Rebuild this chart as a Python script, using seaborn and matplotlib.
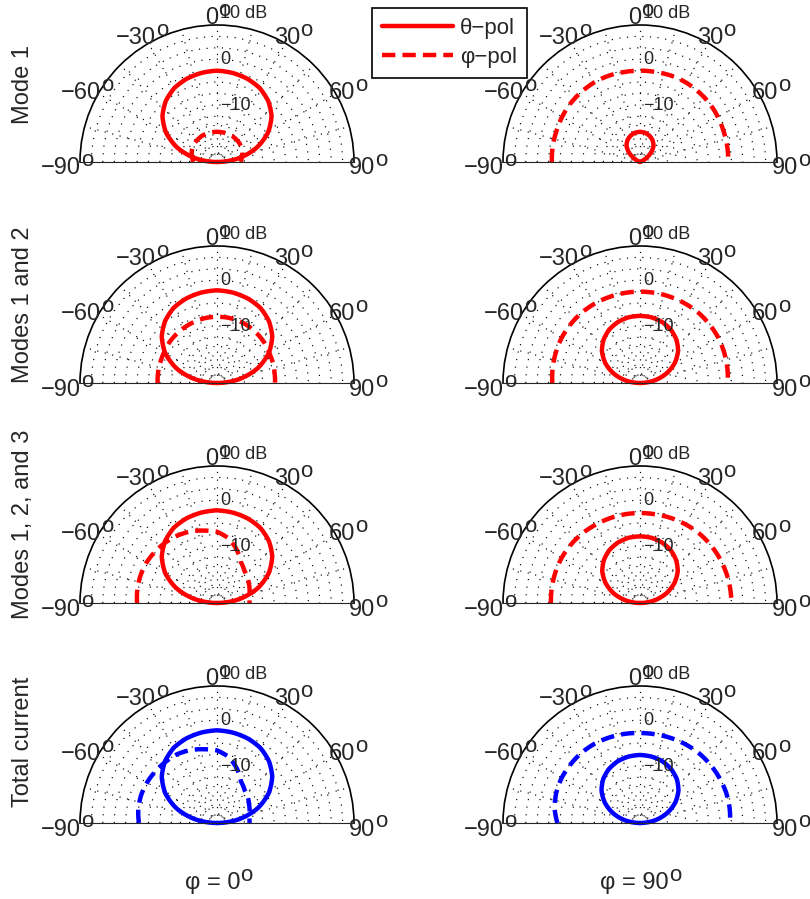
import numpy as np
import matplotlib
matplotlib.use("Agg")
import matplotlib.pyplot as plt
from matplotlib.lines import Line2D
import seaborn as sns

# ---------------------------------------------------------------------------
# Far-field patterns (dB) sampled every 10 degrees from -90 to 90
# ---------------------------------------------------------------------------
ANGLES = [-90, -80, -70, -60, -50, -40, -30, -20, -10, 0,
          10, 20, 30, 40, 50, 60, 70, 80, 90]

# Mode 1
M1_PHI0_THETA = [-20.0, -15.1, -10.7, -7.1, -4.4, -2.55, -1.3, -0.6, -0.2, 0.0,
                 -0.2, -0.6, -1.3, -2.55, -4.4, -7.1, -10.7, -15.1, -20.0]
M1_PHI0_PHI = [-14.8, -14.5, -14.1, -13.8, -13.6, -13.5, -13.4, -13.4, -13.4, -13.4,
               -13.4, -13.4, -13.4, -13.5, -13.6, -13.8, -14.1, -14.5, -14.8]
M1_PHI90_THETA = [-20.0, -20.0, -20.0, -18.8, -16.9, -15.4, -14.5, -13.9, -13.5, -13.4,
                  -13.5, -13.9, -14.5, -15.4, -16.9, -18.8, -20.0, -20.0, -20.0]
M1_PHI90_PHI = [-0.7, -0.6, -0.5, -0.3, -0.1, 0.0, 0.1, 0.1, 0.0, 0.0,
                0.0, 0.1, 0.1, 0.0, -0.1, -0.3, -0.5, -0.6, -0.7]

# Modes 1 and 2
M12_PHI0_THETA = [-20.0, -15.0, -10.5, -6.9, -4.2, -2.3, -1.0, -0.3, 0.1, 0.3,
                  0.1, -0.3, -1.0, -2.3, -4.2, -6.9, -10.5, -15.0, -20.0]
M12_PHI0_PHI = [-7.0, -6.9, -6.8, -6.6, -6.3, -6.1, -5.9, -5.7, -5.55, -5.5,
                -5.5, -5.6, -5.8, -6.1, -6.4, -6.8, -7.0, -7.2, -7.3]
M12_PHI90_THETA = [-20.0, -16.8, -13.8, -11.2, -9.1, -7.6, -6.5, -5.8, -5.4, -5.3,
                   -5.4, -5.8, -6.5, -7.6, -9.1, -11.2, -13.8, -16.8, -20.0]
M12_PHI90_PHI = [-0.8, -0.6, -0.4, -0.2, -0.1, 0.0, 0.0, 0.0, 0.0, 0.0,
                 0.0, 0.0, 0.0, 0.0, -0.1, -0.2, -0.4, -0.6, -0.8]

# Modes 1, 2, and 3
M123_PHI0_THETA = [-20.0, -15.0, -10.5, -6.9, -4.2, -2.3, -1.0, -0.3, 0.1, 0.3,
                   0.1, -0.3, -1.0, -2.3, -4.2, -6.9, -10.5, -15.0, -20.0]
M123_PHI0_PHI = [-2.5, -2.3, -2.2, -2.2, -2.4, -2.6, -2.9, -3.3, -3.9, -4.4,
                 -5.6, -7.5, -9.6, -10.7, -11.3, -11.9, -12.4, -12.8, -12.9]
M123_PHI90_THETA = [-20.0, -16.9, -13.9, -11.3, -9.2, -7.7, -6.6, -5.9, -5.5, -5.4,
                    -5.5, -5.9, -6.6, -7.7, -9.2, -11.3, -13.9, -16.9, -20.0]
M123_PHI90_PHI = [-0.5, -0.4, -0.3, -0.2, -0.2, -0.2, -0.3, -0.3, -0.3, -0.3,
                  -0.3, -0.2, -0.1, 0.0, 0.0, 0.0, 0.0, 0.0, 0.0]

# Total current
TOT_PHI0_THETA = [-20.0, -15.0, -10.5, -6.9, -4.2, -2.3, -1.0, -0.3, 0.1, 0.3,
                  0.1, -0.3, -1.0, -2.3, -4.2, -6.9, -10.5, -15.0, -20.0]
TOT_PHI0_PHI = [-2.9, -2.5, -2.3, -2.3, -2.4, -2.5, -2.6, -3.0, -3.6, -4.1,
                -5.3, -7.3, -9.5, -10.6, -11.2, -11.9, -12.4, -12.8, -12.9]
TOT_PHI90_THETA = [-20.0, -16.7, -13.7, -11.1, -9.0, -7.45, -6.36, -5.63, -5.24, -5.1,
                   -5.24, -5.63, -6.36, -7.45, -9.0, -11.1, -13.7, -16.7, -20.0]
TOT_PHI90_PHI = [-1.9, -1.0, -0.5, -0.2, -0.1, 0.0, 0.0, -0.1, -0.2, -0.3,
                 -0.3, -0.2, -0.1, 0.0, 0.0, 0.0, 0.0, -0.1, -0.3]

ROW_LABELS = ["Mode 1", "Modes 1 and 2", "Modes 1, 2, and 3", "Total current"]
COL_LABELS = ["\u03c6 = 0", "\u03c6 = 90"]
LEGEND_LABELS = ["\u03b8\u2212pol", "\u03c6\u2212pol"]
ROW_COLORS = ["#ff0000", "#ff0000", "#ff0000", "#0000ff"]

PANELS = [
    [(M1_PHI0_THETA, M1_PHI0_PHI), (M1_PHI90_THETA, M1_PHI90_PHI)],
    [(M12_PHI0_THETA, M12_PHI0_PHI), (M12_PHI90_THETA, M12_PHI90_PHI)],
    [(M123_PHI0_THETA, M123_PHI0_PHI), (M123_PHI90_THETA, M123_PHI90_PHI)],
    [(TOT_PHI0_THETA, TOT_PHI0_PHI), (TOT_PHI90_THETA, TOT_PHI90_PHI)],
]

# polar dB scale
R_MIN, R_MAX = -20, 10
RING_LEVELS = [-18, -16, -14, -12, -10, -7.5, -5, -2.5, 0, 2.5, 5, 7.5]
R_LABELS = [(-10, "\u221210"), (0, "0"), (10, "10 dB")]
SPOKES = list(range(-90, 91, 15))
ANGLE_TICKS = [-90, -60, -30, 0, 30, 60, 90]

# ---------------------------------------------------------------------------
sns.set_style("white")
plt.rcParams["font.family"] = ["Liberation Sans", "DejaVu Sans"]

W, H = 810, 899
fig = plt.figure(figsize=(W / 100, H / 100), dpi=100)

RADIUS = 137
LEFTS = [80, 503]
BASES = [162, 383, 603, 823]

LW = 3.2
DASH = (0, (3.0, 1.6))
DOT = (0, (1, 5.5))
FS = 17


def degree_text(ax, text, xy, xycoords, dy):
    """Number with a raised 'o' degree mark, centred as one string."""
    body = ax.annotate(text, xy=xy, xycoords=xycoords, xytext=(-4.0, dy),
                       textcoords="offset points", ha="center", va="baseline",
                       fontsize=FS, annotation_clip=False)
    ax.annotate("o", xy=(1, 0), xycoords=body, xytext=(0.0, 9.4),
                textcoords="offset points", ha="left", va="baseline",
                fontsize=FS - 1, annotation_clip=False)


for ri, row in enumerate(PANELS):
    for ci, (theta_pol, phi_pol) in enumerate(row):
        yc = BASES[ri] - RADIUS / 2
        rect = [LEFTS[ci] / W, (H - (yc + RADIUS)) / H,
                2 * RADIUS / W, 2 * RADIUS / H]
        ax = fig.add_axes(rect, projection="polar")
        ax.set_theta_zero_location("N")
        ax.set_theta_direction(-1)
        ax.set_thetamin(-90)
        ax.set_thetamax(90)
        ax.set_ylim(R_MIN, R_MAX)
        ax.set_facecolor("none")

        ax.set_xticks(np.deg2rad(SPOKES))
        ax.set_yticks(RING_LEVELS)
        ax.set_xticklabels([])
        ax.set_yticklabels([])
        ax.tick_params(length=0)
        ax.grid(True, color="black", linewidth=0.85, linestyle=DOT)
        rgrid = ax.yaxis.get_gridlines()
        rgrid[0].set_linestyle("-")
        rgrid[0].set_linewidth(0.7)
        rgrid[1].set_linestyle((0, (1, 2)))
        for s in ("start", "end", "inner"):
            ax.spines[s].set_visible(False)
        ax.spines["polar"].set_color("black")
        ax.spines["polar"].set_linewidth(1.2)

        color = ROW_COLORS[ri]
        th = np.deg2rad(ANGLES)
        sns.lineplot(x=th, y=theta_pol, ax=ax, color=color, linewidth=LW,
                     sort=False, estimator=None, legend=False, clip_on=False)
        sns.lineplot(x=th, y=phi_pol, ax=ax, color=color, linewidth=LW,
                     linestyle=DASH, sort=False, estimator=None, legend=False,
                     clip_on=False)
        # follow the polar scale between samples (arcs, not chords)
        for ln in ax.lines:
            ln.get_path()._interpolation_steps = 40
        ax.set_xlabel("")
        ax.set_ylabel("")

        # radial labels
        for val, lab in R_LABELS:
            ax.annotate(lab, xy=(0, val), xytext=(2.5, 2),
                        textcoords="offset points", ha="left", va="bottom",
                        fontsize=13, annotation_clip=False)
        # angle labels
        r_lab = R_MIN + 1.1 * (R_MAX - R_MIN)
        for a in ANGLE_TICKS:
            lab = ("\u2212" if a < 0 else "") + "%d" % abs(a)
            degree_text(ax, lab, (np.deg2rad(a), r_lab), "data", -9)

# row labels
ROW_Y = [85, 305, 524, 742]
for lab, y in zip(ROW_LABELS, ROW_Y):
    fig.text(23 / W, 1 - y / H, lab, rotation=90, ha="center", va="center",
             fontsize=FS)

# column labels
COL_X = [218, 640]
for lab, x in zip(COL_LABELS, COL_X):
    degree_text(ax, lab, (x / W, 1 - 881 / H), "figure fraction", -6)

# legend
handles = [Line2D([], [], color="#ff0000", lw=LW),
           Line2D([], [], color="#ff0000", lw=LW, linestyle=DASH)]
leg = fig.legend(handles, LEGEND_LABELS, loc="upper left",
                 bbox_to_anchor=(372 / W, 1 - 8 / H), frameon=True,
                 fancybox=False, edgecolor="black", framealpha=1, fontsize=16,
                 handlelength=3.2, handletextpad=0.3, borderpad=0.45,
                 labelspacing=0.35, borderaxespad=0)
leg.get_frame().set_linewidth(1.2)

fig.savefig("out.png", dpi=100)
